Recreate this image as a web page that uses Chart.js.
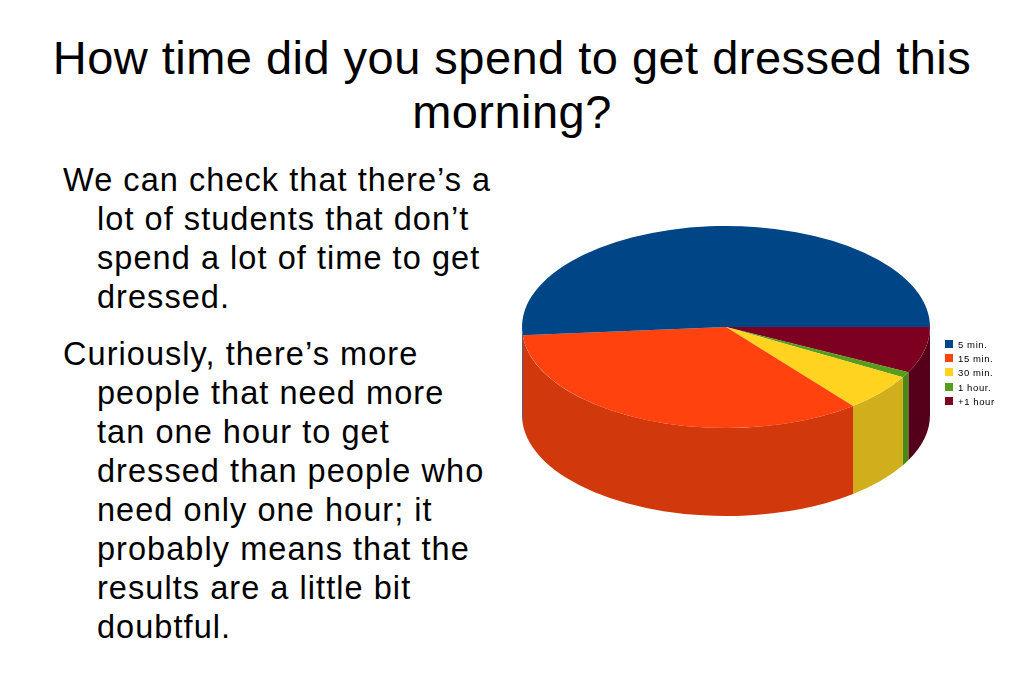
<!DOCTYPE html>
<html><head><meta charset="utf-8">
<script src="https://cdn.jsdelivr.net/npm/chart.js@4"></script>
<style>
html,body{margin:0;padding:0;background:#fff;width:1024px;height:683px;overflow:hidden;font-family:"Liberation Sans",sans-serif;color:#000}
#title{position:absolute;left:0;top:31px;width:1024px;text-align:center;font-size:47px;line-height:54px;letter-spacing:.47px}
#body{position:absolute;left:97px;top:161px;font-size:32.5px;line-height:39px;white-space:nowrap;letter-spacing:1.05px}
#body p{margin:0 0 18px;text-indent:-34px}
#wrap{position:absolute;left:476px;top:77px;width:500px;height:500px}
#legend{position:absolute;left:945px;top:338px;font-size:9.5px;line-height:14.2px;letter-spacing:.6px}
#legend div{white-space:nowrap}
#legend i{display:inline-block;width:8px;height:8px;margin-right:5px;vertical-align:0}
</style></head><body>
<div id="title">How time did you spend to get dressed this<br>morning?</div>
<div id="body">
<p>We can check that there’s a<br>lot of students that don’t<br>spend a lot of time to get<br>dressed.</p>
<p>Curiously, there’s more<br>people that need more<br>tan one hour to get<br>dressed than people who<br>need only one hour; it<br>probably means that the<br>results are a little bit<br>doubtful.</p>
</div>
<div id="wrap"><canvas id="c" width="500" height="500"></canvas></div>
<div id="legend"></div>
<script>
const categories = ["5 min.", "15 min.", "30 min.", "1 hour.", "+1 hour"];
const values = [51.3, 34.4, 6.0, 0.9, 7.4];
const topColors = ["#004586", "#FF420E", "#FFD320", "#579D1C", "#7E0021"];
const wallColors = ["#003A70", "#D1380C", "#D0AE1C", "#4A8A14", "#55001B"];

const squash = 0.495, depth = 88;

const pie3d = {
  id: "pie3d",
  beforeDatasetsDraw(chart) {
    const ctx = chart.ctx, arcs = chart.getDatasetMeta(0).data;
    const first = arcs[0].getProps(["x", "y"]);
    ctx.save();
    arcs.forEach((arc, i) => {
      const p = arc.getProps(["x", "y", "outerRadius", "startAngle", "endAngle"]);
      const a0 = Math.max(p.startAngle, 0), a1 = Math.min(p.endAngle, Math.PI);
      if (a1 <= a0) return;
      const ry = p.outerRadius * squash;
      ctx.beginPath();
      ctx.ellipse(p.x, p.y, p.outerRadius, ry, 0, a0, a1);
      ctx.ellipse(p.x, p.y + depth, p.outerRadius, ry, 0, a1, a0, true);
      ctx.closePath();
      ctx.fillStyle = wallColors[categories.length - 1 - i];
      ctx.fill();
    });
    ctx.translate(first.x, first.y);
    ctx.scale(1, squash);
    ctx.translate(-first.x, -first.y);
  },
  afterDatasetsDraw(chart) { chart.ctx.restore(); }
};

new Chart(document.getElementById("c"), {
  type: "pie",
  data: {
    labels: [...categories].reverse(),
    datasets: [{
      data: [...values].reverse(),
      backgroundColor: [...topColors].reverse(),
      borderWidth: 0
    }]
  },
  options: {
    responsive: false,
    animation: false,
    rotation: 90,
    layout: { padding: 46 },
    plugins: { legend: { display: false }, tooltip: { enabled: false } }
  },
  plugins: [pie3d]
});

const lg = document.getElementById("legend");
categories.forEach((c, i) => {
  const d = document.createElement("div");
  const sw = document.createElement("i");
  sw.style.background = topColors[i];
  d.appendChild(sw);
  d.appendChild(document.createTextNode(c));
  lg.appendChild(d);
});
</script>
</body></html>
